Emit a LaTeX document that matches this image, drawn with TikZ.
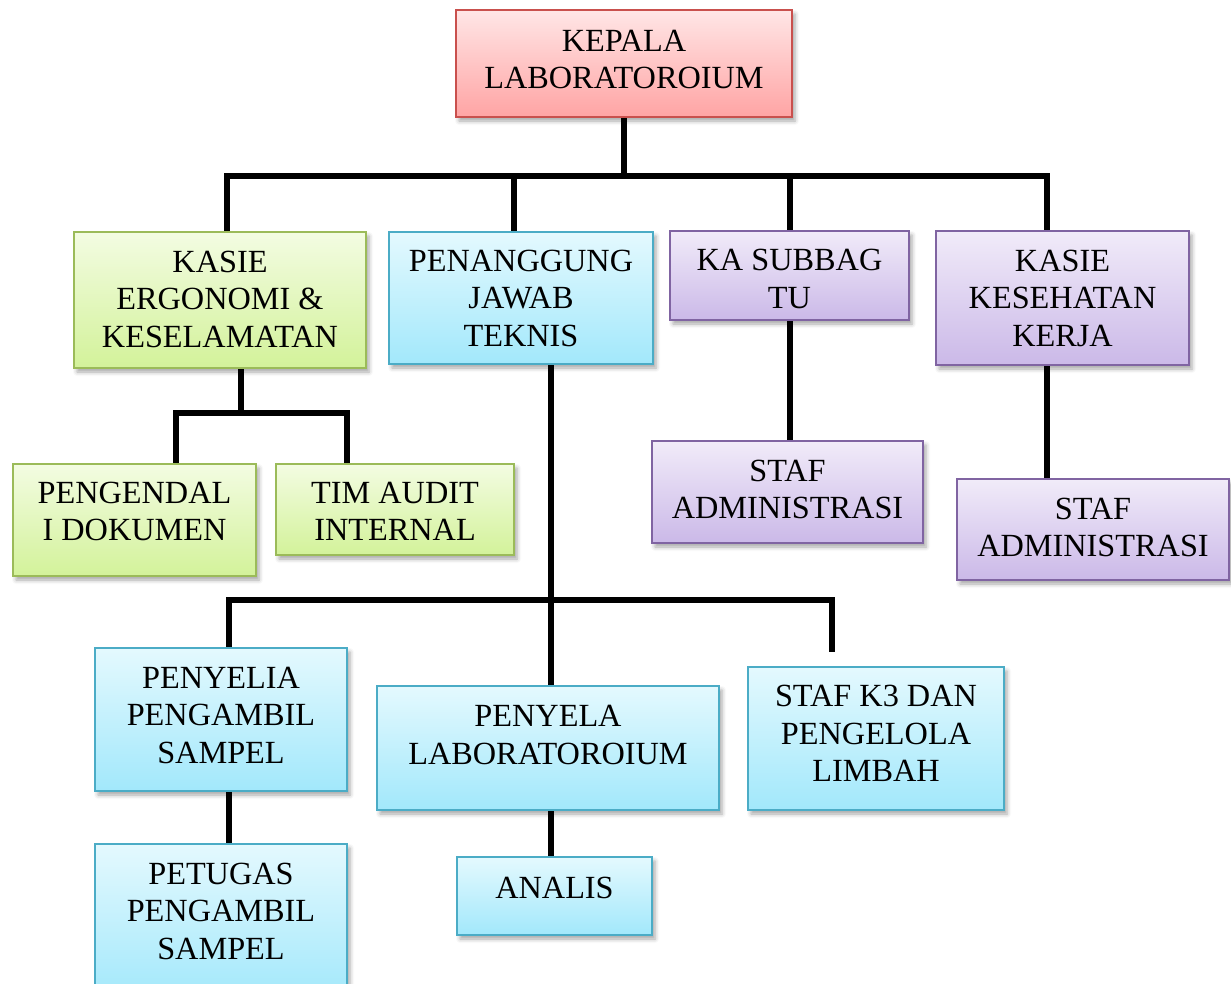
\documentclass[tikz,border=0pt]{standalone}
\usepackage{fontspec}
\setmainfont{Liberation Serif}
\usetikzlibrary{shadows.blur}
\pgfdeclarelayer{background}
\pgfsetlayers{background,main}
\definecolor{redtop}{HTML}{FFE6E6}
\definecolor{redbot}{HTML}{FFA4A4}
\definecolor{redline}{HTML}{C9504D}
\definecolor{greentop}{HTML}{F3FCE2}
\definecolor{greenbot}{HTML}{D3F29A}
\definecolor{greenline}{HTML}{9BBB59}
\definecolor{bluetop}{HTML}{E4F9FE}
\definecolor{bluebot}{HTML}{A2E8FB}
\definecolor{blueline}{HTML}{4BACC6}
\definecolor{purptop}{HTML}{F1EBF9}
\definecolor{purpbot}{HTML}{CBB9E8}
\definecolor{purpline}{HTML}{8064A2}
\tikzset{
  orgbox/.style={rectangle, inner sep=0pt, line width=1.5pt,
    blur shadow={shadow xshift=3pt, shadow yshift=-4pt, shadow blur radius=4pt, shadow opacity=35}},
  redbox/.style={orgbox, draw=redline, top color=redtop, bottom color=redbot},
  greenbox/.style={orgbox, draw=greenline, top color=greentop, bottom color=greenbot},
  bluebox/.style={orgbox, draw=blueline, top color=bluetop, bottom color=bluebot},
  purpbox/.style={orgbox, draw=purpline, top color=purptop, bottom color=purpbot},
  txt/.style={inner sep=0pt, align=center, font=\fontsize{32.3}{37.5}\selectfont},
  conn/.style={draw=black, line width=5.5pt, line join=miter}
}
\begin{document}
\begin{tikzpicture}[x=1pt, y=-1pt]
\useasboundingbox (0,0) rectangle (1231,983);
% boxes
\node[redbox, minimum width=336pt, minimum height=107pt] (kepala) at (624,63.5) {};
\node[greenbox, minimum width=292pt, minimum height=136pt] (ke) at (220,300) {};
\node[bluebox, minimum width=264pt, minimum height=132pt] (pj) at (521,298) {};
\node[purpbox, minimum width=239pt, minimum height=89pt] (ks) at (789.5,275.5) {};
\node[purpbox, minimum width=253pt, minimum height=134pt] (kk) at (1062.5,298) {};
\node[greenbox, minimum width=243pt, minimum height=112pt] (pd) at (134.5,520) {};
\node[greenbox, minimum width=238pt, minimum height=91pt] (ta) at (395,509.5) {};
\node[purpbox, minimum width=271pt, minimum height=102pt] (sa1) at (787.5,492) {};
\node[purpbox, minimum width=272pt, minimum height=101pt] (sa2) at (1093,529.5) {};
\node[bluebox, minimum width=252pt, minimum height=143pt] (py) at (221,719.5) {};
\node[bluebox, minimum width=342pt, minimum height=124pt] (pl) at (548,748) {};
\node[bluebox, minimum width=256pt, minimum height=143pt] (k3) at (876,738.5) {};
\node[bluebox, minimum width=252pt, minimum height=156pt] (pt) at (221,922) {};
\node[bluebox, minimum width=195pt, minimum height=78pt] (an) at (554.5,896) {};
% texts
\node[txt] (kepalaT) at (624,59.5) {KEPALA\\LABORATOROIUM};
\node[txt] (keT) at (220,299) {KASIE\\ERGONOMI \&\\KESELAMATAN};
\node[txt] (pjT) at (521,298) {PENANGGUNG\\JAWAB\\TEKNIS};
\node[txt] (ksT) at (789.5,279) {KA SUBBAG\\TU};
\node[txt] (kkT) at (1062.5,298) {KASIE\\KESEHATAN\\KERJA};
\node[txt] (pdT) at (134.5,511.5) {PENGENDAL\\I DOKUMEN};
\node[txt] (taT) at (395,511.5) {TIM AUDIT\\INTERNAL};
\node[txt] (sa1T) at (787.5,489.5) {STAF\\ADMINISTRASI};
\node[txt] (sa2T) at (1093,527.5) {STAF\\ADMINISTRASI};
\node[txt] (pyT) at (221,715) {PENYELIA\\PENGAMBIL\\SAMPEL};
\node[txt] (plT) at (548,735) {PENYELA\\LABORATOROIUM};
\node[txt] (k3T) at (876,733.5) {STAF K3 DAN\\PENGELOLA\\LIMBAH};
\node[txt] (ptT) at (221,911) {PETUGAS\\PENGAMBIL\\SAMPEL};
\node[txt] (anT) at (554.5,888) {ANALIS};
% junction coordinates
\coordinate (d1) at (227,176);
\coordinate (d2) at (514,176);
\coordinate (d3) at (790,176);
\coordinate (d4) at (1047,176);
\coordinate (e0) at (241,413);
\coordinate (e1) at (176,413);
\coordinate (e2) at (347,413);
\coordinate (k0) at (1047,400);
\coordinate (p0) at (551,600);
\coordinate (p1) at (229,600);
\coordinate (p2) at (832,600);
\coordinate (p2e) at (832,652);
% connectors
\begin{pgfonlayer}{background}
\draw[conn] (kepala.south) -- (kepala.south |- d1);
\draw[conn] (d1 |- ke.north) -- (d1) -- (d4) -- (d4 |- kk.north);
\draw[conn] (d2) -- (d2 |- pj.north);
\draw[conn] (d3) -- (d3 |- ks.north);
\draw[conn] (e0 |- ke.south) -- (e0);
\draw[conn] (e1 |- pd.north) -- (e1) -- (e2) -- (e2 |- ta.north);
\draw[conn] (ks.south -| d3) -- (sa1.north -| d3);
\draw[conn] (k0 |- kk.south) -- (k0 |- sa2.north);
\draw[conn] (p0 |- pj.south) -- (p0 |- pl.north);
\draw[conn] (p1 |- py.north) -- (p1) -- (p2) -- (p2e);
\draw[conn] (p1 |- py.south) -- (p1 |- pt.north);
\draw[conn] (p0 |- pl.south) -- (p0 |- an.north);
\end{pgfonlayer}
\end{tikzpicture}
\end{document}
